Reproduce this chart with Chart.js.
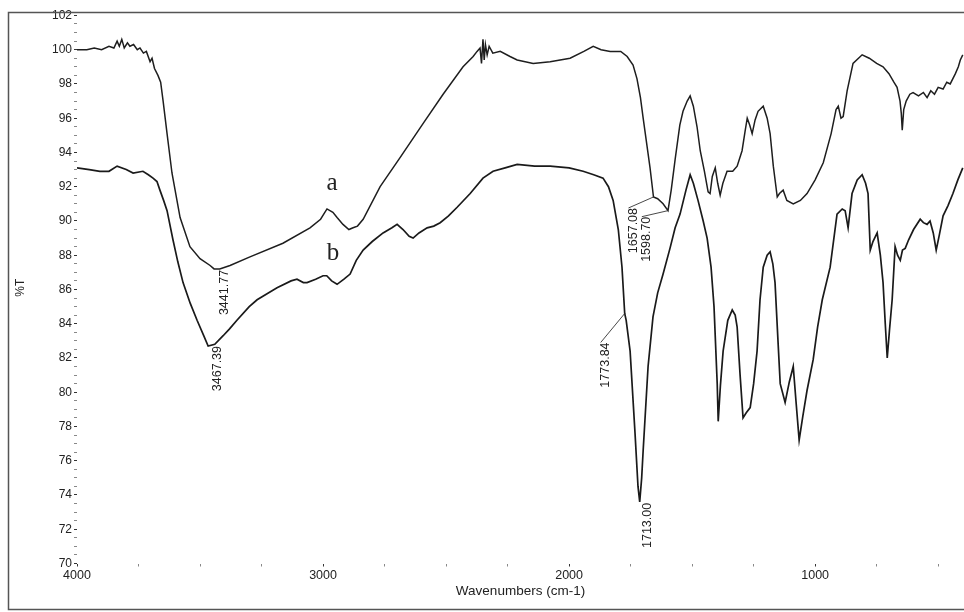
<!DOCTYPE html>
<html>
<head>
<meta charset="utf-8">
<title>FTIR spectra a / b</title>
<script src="https://cdn.jsdelivr.net/npm/chart.js@4.4.1/dist/chart.umd.min.js"></script>
<style>
  html, body { margin: 0; padding: 0; background: #fff; }
  #wrap { width: 964px; height: 612px; }
</style>
</head>
<body>
<div id="wrap"><canvas id="irChart" width="964" height="612"></canvas></div>
<script>
// spectrum a (upper trace)
const waveA = [4000, 3960, 3930, 3900, 3870, 3850, 3837, 3828, 3818, 3808, 3795, 3785, 3770, 3755, 3744, 3730, 3718, 3703, 3695, 3685,
  3671, 3660, 3650, 3634, 3614, 3581, 3541, 3500, 3459, 3443, 3420, 3378, 3297, 3163, 3053, 3010, 2984, 2960, 2943, 2919,
  2895, 2878, 2860, 2837, 2768, 2687, 2593, 2512, 2431, 2390, 2374, 2362, 2356, 2350, 2345, 2340, 2333, 2325, 2310, 2280,
  2240, 2211, 2146, 2077, 1996, 1940, 1902, 1870, 1833, 1790, 1764, 1740, 1724, 1710, 1699, 1671, 1657, 1640, 1618, 1598,
  1585, 1569, 1550, 1537, 1520, 1508, 1495, 1480, 1467, 1450, 1435, 1427, 1418, 1406, 1396, 1386, 1375, 1358, 1335, 1317,
  1297, 1284, 1276, 1266, 1256, 1244, 1232, 1211, 1195, 1183, 1170, 1154, 1145, 1130, 1115, 1089, 1060, 1033, 1000, 967,
  935, 915, 906, 895, 886, 870, 846, 809, 780, 750, 724, 700, 680, 667, 655, 650, 646, 640, 630, 615,
  602, 580, 560, 545, 530, 515, 500, 480, 465, 451, 430, 418, 410, 400];
const transA = [100.0, 100.0, 100.1, 100.0, 100.2, 100.1, 100.5, 100.2, 100.6, 100.1, 100.4, 100.2, 100.3, 100.0, 100.1, 99.8, 99.9, 99.3, 99.5, 98.9,
  98.5, 98.1, 97.0, 95.1, 92.8, 90.2, 88.5, 87.8, 87.4, 87.2, 87.2, 87.4, 87.9, 88.7, 89.6, 90.1, 90.7, 90.5, 90.2, 89.8,
  89.5, 89.6, 89.7, 90.1, 92.0, 93.7, 95.7, 97.4, 99.0, 99.6, 99.9, 100.1, 99.2, 100.6, 99.4, 100.3, 99.7, 100.2, 99.8, 99.9,
  99.6, 99.4, 99.2, 99.3, 99.5, 99.9, 100.2, 100.0, 99.9, 99.9, 99.6, 99.1, 98.3, 97.2, 96.0, 93.1, 91.4, 91.3, 91.0, 90.6,
  91.8, 93.6, 95.6, 96.4, 97.0, 97.3, 96.7, 95.5, 94.1, 92.9, 91.7, 91.6, 92.6, 93.1, 92.2, 91.5, 92.2, 92.9, 92.9, 93.2,
  94.1, 95.3, 96.0, 95.6, 95.1, 95.9, 96.4, 96.7, 96.0, 95.1, 93.2, 91.4, 91.6, 91.8, 91.2, 91.0, 91.2, 91.6, 92.4, 93.4,
  95.1, 96.5, 96.7, 96.0, 96.1, 97.6, 99.2, 99.7, 99.5, 99.2, 99.0, 98.6, 98.1, 97.8, 97.0, 96.3, 95.3, 96.5, 97.0, 97.4,
  97.5, 97.3, 97.5, 97.2, 97.6, 97.4, 97.8, 97.7, 98.1, 98.0, 98.6, 99.0, 99.4, 99.7];

// spectrum b (lower trace)
const waveB = [4000, 3950, 3907, 3870, 3837, 3800, 3772, 3732, 3710, 3691, 3675, 3663, 3648, 3634, 3610, 3590, 3569, 3540, 3512, 3485,
  3467, 3440, 3406, 3380, 3350, 3300, 3268, 3187, 3130, 3106, 3080, 3065, 3030, 3000, 2985, 2965, 2943, 2915, 2890, 2865,
  2837, 2800, 2756, 2720, 2699, 2675, 2650, 2634, 2610, 2577, 2550, 2524, 2490, 2455, 2402, 2350, 2309, 2260, 2211, 2140,
  2077, 2000, 1943, 1900, 1862, 1840, 1821, 1800, 1785, 1774, 1768, 1752, 1732, 1720, 1713, 1705, 1699, 1679, 1659, 1640,
  1618, 1590, 1569, 1549, 1525, 1508, 1495, 1476, 1455, 1439, 1423, 1411, 1398, 1394, 1385, 1374, 1355, 1337, 1325, 1317,
  1305, 1293, 1280, 1264, 1250, 1236, 1224, 1211, 1195, 1183, 1172, 1163, 1151, 1142, 1122, 1105, 1089, 1078, 1065, 1050,
  1033, 1008, 990, 971, 939, 911, 890, 878, 866, 850, 829, 809, 795, 785, 776, 765, 748, 735, 724, 715,
  707, 698, 687, 675, 665, 654, 645, 634, 620, 600, 573, 560, 545, 533, 520, 508, 495, 480, 460, 440,
  420, 400];
const transB = [93.1, 93.0, 92.9, 92.9, 93.2, 93.0, 92.8, 92.9, 92.7, 92.5, 92.3, 91.8, 91.2, 90.6, 88.9, 87.6, 86.4, 85.2, 84.2, 83.3,
  82.7, 82.8, 83.3, 83.7, 84.2, 85.0, 85.4, 86.1, 86.5, 86.6, 86.4, 86.4, 86.6, 86.8, 86.8, 86.5, 86.3, 86.6, 86.9, 87.7,
  88.3, 88.8, 89.3, 89.6, 89.8, 89.5, 89.1, 89.0, 89.3, 89.6, 89.7, 89.9, 90.3, 90.8, 91.6, 92.5, 92.9, 93.1, 93.3, 93.2,
  93.2, 93.1, 92.9, 92.7, 92.5, 92.0, 91.2, 89.5, 87.3, 84.6, 84.2, 82.4, 77.6, 74.5, 73.6, 75.0, 76.6, 81.5, 84.4, 85.8,
  86.9, 88.4, 89.6, 90.4, 91.8, 92.7, 92.2, 91.2, 90.0, 89.0, 87.3, 85.0, 80.5, 78.3, 80.4, 82.4, 84.2, 84.8, 84.5, 83.8,
  81.0, 78.5, 78.8, 79.1, 80.5, 82.4, 85.4, 87.3, 88.0, 88.2, 87.5, 86.4, 83.0, 80.5, 79.4, 80.6, 81.5, 79.5, 77.2, 78.6,
  80.1, 81.9, 83.8, 85.4, 87.3, 90.4, 90.7, 90.6, 89.6, 91.6, 92.4, 92.7, 92.2, 91.6, 88.3, 88.8, 89.3, 88.0, 86.4, 84.0,
  82.0, 83.6, 85.4, 88.5, 88.0, 87.7, 88.3, 88.4, 88.9, 89.5, 90.1, 89.9, 89.8, 90.0, 89.3, 88.3, 89.2, 90.3, 90.9, 91.6,
  92.4, 93.1];

// axis ticks
const xTickValues = [4000, 3750, 3500, 3250, 3000, 2750, 2500, 2250, 2000, 1750, 1500, 1250, 1000, 750, 500];
const xTickLabels = [4000, 3000, 2000, 1000];
const yTickLabels = [70, 72, 74, 76, 78, 80, 82, 84, 86, 88, 90, 92, 94, 96, 98, 100, 102];

// marked peaks: text, wavenumber, %T on the trace, label offset in px, leader line or not
const peakMarks = [
  { text: '3441.77', wave: 3441.77, trans: 87.2, dx: 10, dy: 1, leader: false },
  { text: '3467.39', wave: 3467.39, trans: 82.7, dx: 9, dy: 0, leader: false },
  { text: '1773.84', wave: 1773.84, trans: 84.6, dx: -19, dy: 29, leader: true },
  { text: '1713.00', wave: 1713.00, trans: 73.6, dx: 8, dy: 1, leader: false },
  { text: '1657.08', wave: 1657.08, trans: 91.4, dx: -20, dy: 11, leader: true },
  { text: '1598.70', wave: 1598.70, trans: 90.6, dx: -21, dy: 6, leader: true }
];
const traceNames = [
  { text: 'a', wave: 2963, trans: 92.2 },
  { text: 'b', wave: 2960, trans: 88.1 }
];

const toPoints = (xs, ys) => xs.map((x, i) => ({ x: x, y: ys[i] }));

const sans = '"Liberation Sans", Arial, sans-serif';

const peakPlugin = {
  id: 'peakMarks',
  afterDatasetsDraw(chart) {
    const { ctx, scales: { x, y } } = chart;
    ctx.save();
    ctx.fillStyle = '#222';
    ctx.strokeStyle = '#333';
    ctx.lineWidth = 0.9;
    ctx.font = '12.5px ' + sans;
    peakMarks.forEach(p => {
      const px = x.getPixelForValue(p.wave);
      const py = y.getPixelForValue(p.trans);
      const tx = px + p.dx, ty = py + p.dy;
      if (p.leader) {
        ctx.beginPath();
        ctx.moveTo(px, py);
        ctx.lineTo(tx - 5, ty);
        ctx.stroke();
      }
      ctx.save();
      ctx.translate(tx, ty);
      ctx.rotate(-Math.PI / 2);
      ctx.textAlign = 'right';
      ctx.textBaseline = 'middle';
      ctx.fillText(p.text, 0, 0);
      ctx.restore();
    });
    ctx.font = '25px "Liberation Serif", "Times New Roman", serif';
    ctx.textAlign = 'center';
    ctx.textBaseline = 'middle';
    traceNames.forEach(t => {
      ctx.fillText(t.text, x.getPixelForValue(t.wave), y.getPixelForValue(t.trans));
    });
    ctx.restore();
  }
};

// scanned page frame
const framePlugin = {
  id: 'frame',
  afterDraw(chart) {
    const ctx = chart.ctx;
    ctx.save();
    ctx.strokeStyle = '#555';
    ctx.lineWidth = 1.5;
    ctx.strokeRect(8.5, 12.5, 970, 597);
    ctx.restore();
  }
};

const ctx = document.getElementById('irChart').getContext('2d');
const irChart = new Chart(ctx, {
  type: 'scatter',
  data: {
    datasets: [
      {
        label: 'a',
        data: toPoints(waveA, transA),
        showLine: true,
        borderColor: '#1e1e1e',
        borderWidth: 1.5,
        pointRadius: 0,
        tension: 0
      },
      {
        label: 'b',
        data: toPoints(waveB, transB),
        showLine: true,
        borderColor: '#1a1a1a',
        borderWidth: 1.7,
        pointRadius: 0,
        tension: 0
      }
    ]
  },
  options: {
    responsive: false,
    animation: false,
    layout: { padding: { top: 12, right: 0, bottom: 0, left: 0 } },
    plugins: {
      legend: { display: false },
      tooltip: { enabled: false }
    },
    scales: {
      x: {
        type: 'linear',
        reverse: true,
        min: 395,
        max: 4000,
        afterBuildTicks: s => { s.ticks = xTickValues.map(v => ({ value: v })); },
        afterFit: s => { s.height = 48.5; },
        border: { display: false },
        grid: {
          drawOnChartArea: false,
          tickLength: 3,
          tickColor: c => xTickLabels.includes(c.tick.value) ? '#333' : '#888'
        },
        ticks: {
          autoSkip: false,
          maxRotation: 0,
          padding: 2,
          color: '#222',
          font: { family: sans, size: 12.5 },
          callback: v => xTickLabels.includes(v) ? String(v) : ''
        },
        title: {
          display: true,
          text: 'Wavenumbers (cm-1)',
          color: '#222',
          font: { family: sans, size: 13.5 },
          padding: { top: 0, bottom: 13 }
        }
      },
      y: {
        type: 'linear',
        min: 70,
        max: 102.2,
        afterBuildTicks: s => {
          const t = [];
          for (let v = 70; v <= 102; v += 0.5) t.push({ value: v });
          s.ticks = t;
        },
        afterFit: s => { s.width = 77; },
        border: { display: false },
        grid: {
          drawOnChartArea: false,
          tickLength: 3,
          tickColor: c => yTickLabels.includes(c.tick.value) ? '#333' : '#888'
        },
        ticks: {
          autoSkip: false,
          padding: 2,
          color: '#222',
          font: { family: sans, size: 12 },
          callback: v => yTickLabels.includes(v) ? String(v) : ''
        },
        title: {
          display: true,
          text: '%T',
          color: '#222',
          font: { family: sans, size: 12 },
          padding: { top: 13, bottom: 0 }
        }
      }
    }
  },
  plugins: [peakPlugin, framePlugin]
});
</script>
</body>
</html>
